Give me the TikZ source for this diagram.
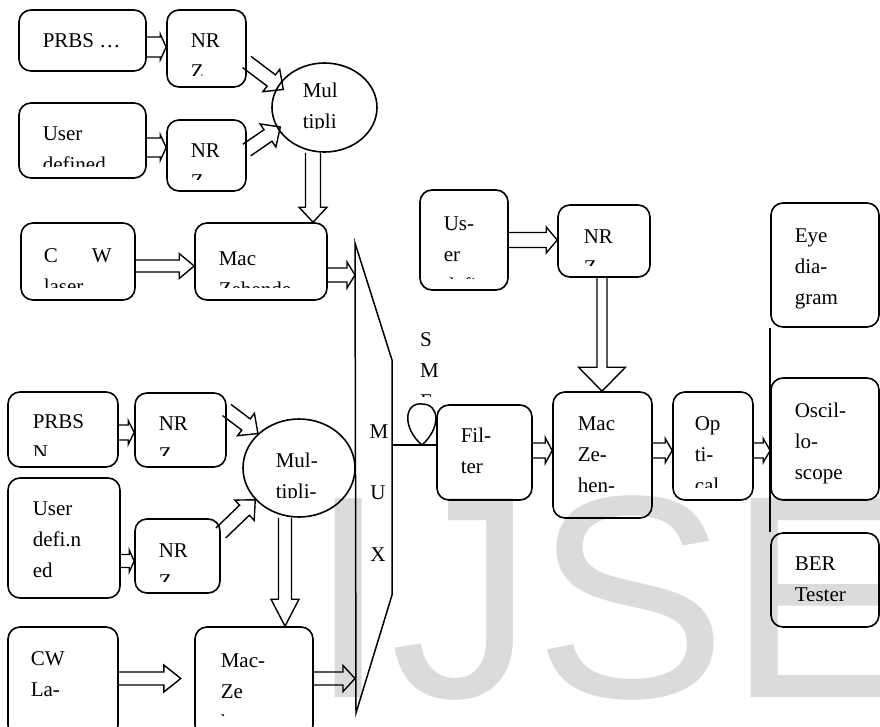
\documentclass[tikz,border=0pt]{standalone}
\usepackage{fontspec}
\setmainfont{Liberation Serif}
\newfontfamily\wmfont{Liberation Sans}
\usetikzlibrary{shapes.geometric, calc}

% hollow block arrow: from, to, half shaft, half head, head length
\newcommand\fatarrow[5]{%
  \draw[fat] let \p1=($(#2)-(#1)$), \n1={atan2(\y1,\x1)}, \n2={veclen(\x1,\y1)} in
    [shift={(#1)}, rotate=\n1]
    (0,#3) -- (\n2-#5,#3) -- (\n2-#5,#4) -- (\n2,0) -- (\n2-#5,-#4) -- (\n2-#5,-#3) -- (0,-#3);}
% first line raised to a fixed height
\newcommand\tline{\rule{0pt}{21.7pt}}

\tikzset{
  blk/.style={draw, line width=1.6pt, rounded corners=12pt},
  oval/.style={draw, line width=1.6pt, ellipse},
  sz/.style 2 args={minimum width=#1pt, minimum height=#2pt},
  fat/.style={line width=1.4pt, line join=miter},
  wire/.style={line width=1.5pt},
  wm/.style={anchor=base, inner sep=0pt, text=black!14, font=\wmfont\fontsize{289}{289}\selectfont},
  lbl/.style={shape=rectangle, draw=none, fill=none, inner sep=0pt, minimum size=0pt,
    align=left, text=black, path picture={}, font=\fontsize{21}{31}\selectfont},
  % text, indent, first baseline, cut above bottom
  txt/.style n args={4}{path picture={
    \clip[sharp corners] ([yshift=#4pt]path picture bounding box.south west) rectangle (path picture bounding box.north east);
    \node[lbl, anchor=north west] at ([shift={(#2,#3-21.7)}]path picture bounding box.north west) {\tline#1};}},
  tx/.style={txt={#1}{23}{37}{12}},
}

\begin{document}
\begin{tikzpicture}[x=1pt, y=-1pt, font=\fontsize{21}{31}\selectfont]
  \useasboundingbox (0,0) rectangle (880,726);
  \clip (0,0) rectangle (880,726);
  \node[wm] (wmI) at (349,697) {I};
  \node[wm, anchor=base west] (wmJSE) at (390,697) {JSE};

  % first transmitter
  \node[blk, sz={127}{61}, tx={PRBS \ldots}] (prbsA) at (82.5,40.5) {};
  \node[blk, sz={79}{77}, tx={NR\\Z}] (nrzA) at (206.5,48.5) {};
  \node[blk, sz={127}{75}, tx={User\\defined}] (userA) at (82.5,140.5) {};
  \node[blk, sz={79}{71}, tx={NR\\Z}] (nrzB) at (206.5,155.5) {};
  \node[oval, sz={105}{89}, txt={Mul\\tipli}{30}{34}{24}] (mulA) at (324.5,107.5) {};
  \node[blk, sz={114}{77}, txt={C\hspace{34pt}W\\laser}{22}{39}{13}] (cwA) at (78,261.5) {};
  \node[blk, sz={132}{77}, txt={Mac\\Zehende}{23}{42}{13}] (mzA) at (261,261.5) {};

  % second transmitter
  \node[blk, sz={110}{75}, txt={PRBS\\N}{24}{36}{12}] (prbsB) at (63,429.5) {};
  \node[blk, sz={91}{74}, tx={NR\\Z}] (nrzC) at (180.5,430) {};
  \node[blk, sz={112}{120}, txt={User\\defi.n\\ed}{24}{37}{12}] (userB) at (64,538) {};
  \node[blk, sz={85}{74}, txt={NR\\Z}{23}{38}{12}] (nrzD) at (177.5,556) {};
  \node[oval, sz={112}{98}, txt={Mul-\\tipli-}{32}{48}{20}] (mulB) at (299,468) {};
  \node[blk, sz={110}{110}, txt={CW\\La-}{22}{38}{12}] (cwB) at (63,682) {};
  \node[blk, sz={118}{110}, txt={Mac-\\Ze\\hen-}{25}{40}{22}] (mzB) at (254,682) {};

  % multiplexer
  \draw[wire, line join=miter] (355,243) coordinate (muxtl) -- (392,360) -- (392,595) -- (356,713) -- cycle;
  \node[lbl] (muxM) at (379,431.5) {M};
  \node[lbl] (muxU) at (378,493) {U};
  \node[lbl] (muxX) at (378,554.5) {X};
  \coordinate (muxout) at (392,445);

  % fibre and receiver
  \begin{scope}
    \clip (400,320) rectangle (450,396);
    \node[lbl, anchor=north west] (smf) at (420,324.3) {\tline S\\M\\F};
  \end{scope}
  \coordinate (coil) at (422,445);
  \draw[wire] (coil) .. controls (402,428) and (404,402) .. (422,404) .. controls (440,404) and (441,428) .. (coil);

  \node[blk, sz={88}{100}, txt={Us-\\er\\defi-}{23}{40}{12}] (userC) at (464,240) {};
  \node[blk, sz={92}{72}, txt={NR\\Z}{25}{38}{12}] (nrzE) at (604,241) {};
  \node[blk, sz={95}{95}, tx={Fil-\\ter}] (filt) at (484.5,452.5) {};
  \node[blk, sz={99}{126}, txt={Mac\\Ze-\\hen-}{24}{38}{12}] (mzC) at (602.5,455) {};
  \node[blk, sz={80}{108}, txt={Op\\ti-\\cal}{21}{38}{13}] (opt) at (713,446) {};
  \node[blk, sz={108}{124}, txt={Eye\\dia-\\gram}{23}{39}{12}] (eye) at (825,265) {};
  \node[blk, sz={108}{122}, txt={Oscil-\\lo-\\scope}{23}{39}{12}] (osc) at (825,439) {};
  \node[blk, sz={108}{94}, tx={BER\\Tester}] (ber) at (825,580) {};

  \draw[wire] (muxout) -- (muxout -| filt.west);
  \draw[wire] (eye.south west) -- (ber.north west);

  % arrows
  \fatarrow{[yshift=-6.5pt]prbsA.east}{[yshift=-6.5pt]prbsA.east -| nrzA.west}{10}{13}{6}
  \fatarrow{[yshift=-7pt]userA.east}{[yshift=-7pt]userA.east -| nrzB.west}{9.5}{13}{6}
  \fatarrow{[yshift=-13.5pt]nrzA.east}{[shift={(6pt,-3pt)}]mulA.156}{7}{14}{15}
  \fatarrow{[yshift=5.5pt]nrzB.east}{[xshift=4pt]mulA.202}{7}{14}{15}
  \fatarrow{[xshift=-11.5pt]mulA.south}{[xshift=-11.5pt]mulA.south |- mzA.north}{7.5}{14}{15}
  \fatarrow{[yshift=-4.5pt]cwA.east}{[yshift=-4.5pt]cwA.east -| mzA.west}{6}{12.5}{15}
  \fatarrow{[yshift=-13.5pt]mzA.east}{[yshift=-13.5pt]mzA.east -| muxtl}{7}{13}{8}
  \fatarrow{[yshift=-3pt]prbsB.east}{[yshift=-3pt]prbsB.east -| nrzC.west}{7.5}{12}{6}
  \fatarrow{[yshift=-23pt]userB.east}{[yshift=-23pt]userB.east -| nrzD.west}{6.5}{11}{5}
  \fatarrow{[yshift=20pt]nrzC.east}{mulB.140}{7}{14}{15}
  \fatarrow{[yshift=23pt]nrzD.east}{mulB.216}{7}{14}{15}
  \fatarrow{[xshift=-14pt]mulB.south}{[xshift=-14pt]mulB.south |- mzB.north}{6.5}{14}{27}
  \fatarrow{[yshift=3.5pt]cwB.east}{[shift={(62pt,3.5pt)}]cwB.east}{6.5}{13.5}{17}
  \fatarrow{[yshift=3.5pt]mzB.east}{[yshift=3.5pt]mzB.east -| muxtl}{6.5}{13}{12}
  \fatarrow{userC.east}{userC.east -| nrzE.west}{7.5}{13}{11}
  \fatarrow{[xshift=-2pt]nrzE.south}{[xshift=-2pt]nrzE.south |- mzC.north}{5}{23.5}{24}
  \fatarrow{[yshift=2pt]filt.east}{[yshift=2pt]filt.east -| mzC.west}{7.5}{13}{7}
  \fatarrow{[yshift=4.5pt]mzC.east}{[yshift=4.5pt]mzC.east -| opt.west}{7.5}{12}{7}
  \fatarrow{[yshift=-4.5pt]opt.east}{[yshift=-4.5pt]opt.east -| osc.west}{7.5}{12}{7}
\end{tikzpicture}
\end{document}
